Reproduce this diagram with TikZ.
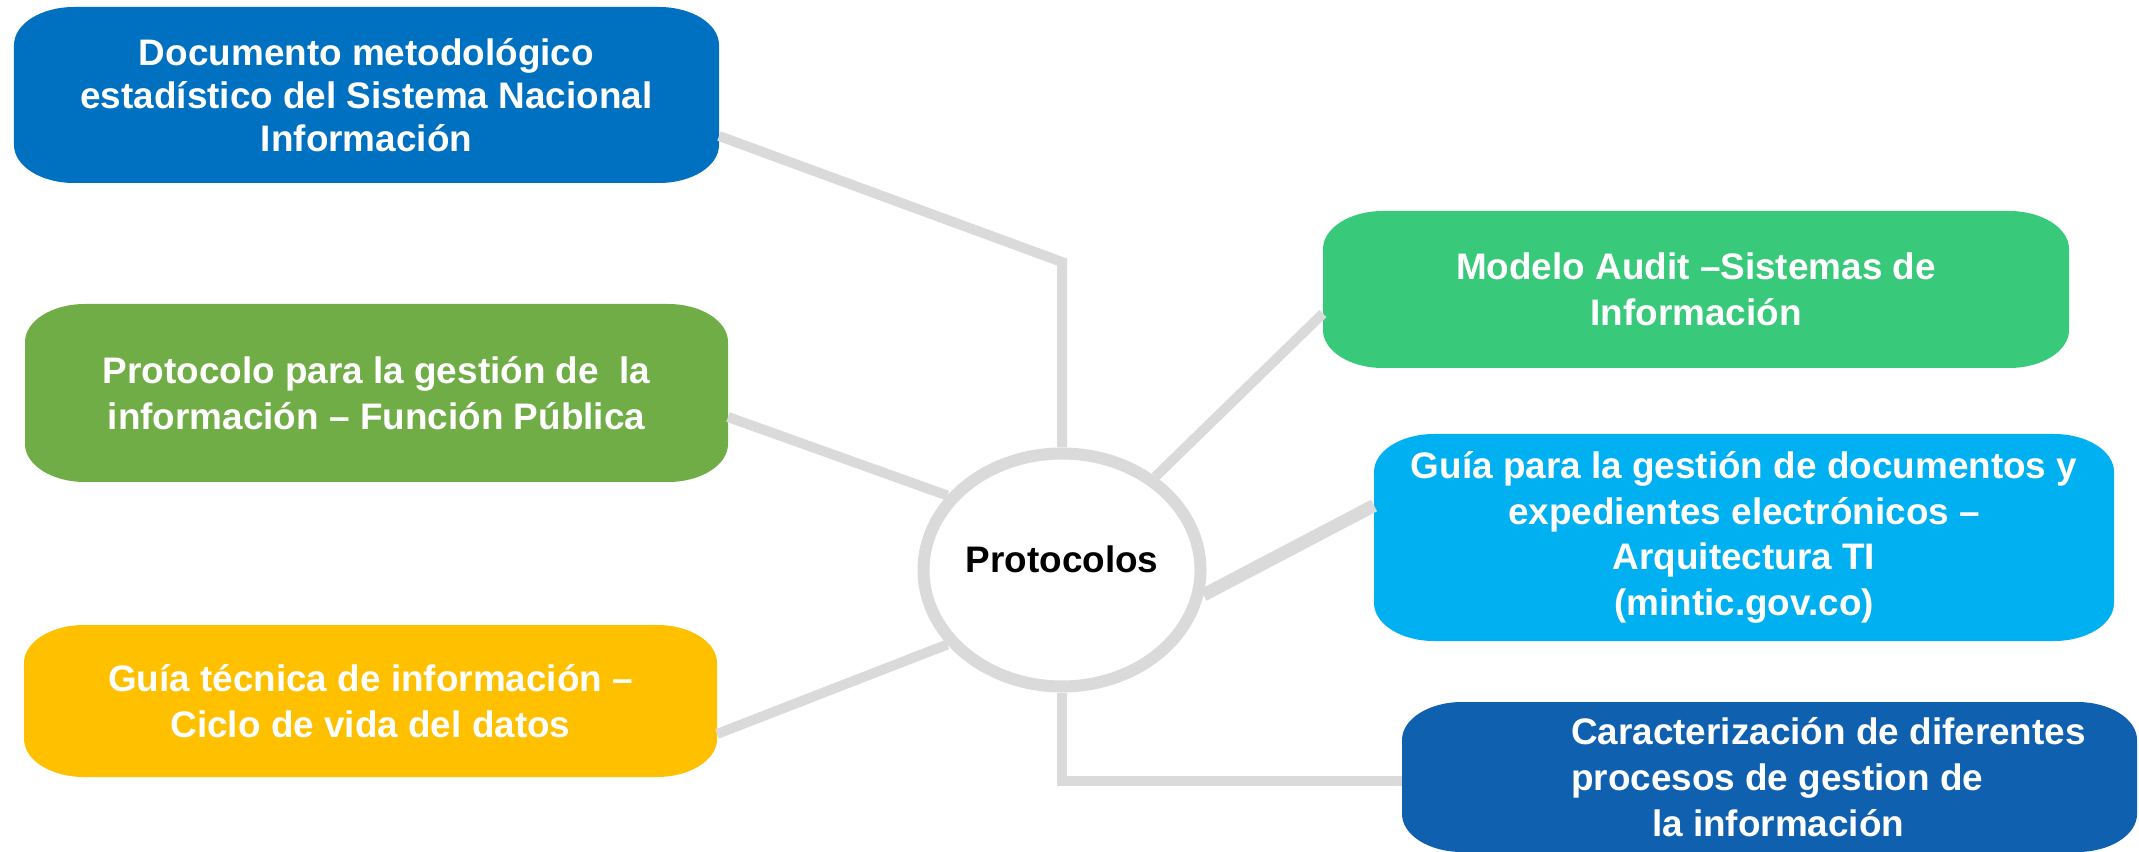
\documentclass[tikz,border=0pt]{standalone}
\usepackage{fontspec}
\setmainfont{Liberation Sans}
\usetikzlibrary{shapes.geometric,backgrounds}

\definecolor{docblue}{HTML}{0070C0}
\definecolor{leafgreen}{HTML}{70AD47}
\definecolor{amber}{HTML}{FFC000}
\definecolor{mint}{HTML}{38C97A}
\definecolor{sky}{HTML}{00B0F0}
\definecolor{navy}{HTML}{1060B0}
\definecolor{linkgray}{HTML}{DADADA}

\tikzset{
  card/.style={rectangle,outer sep=0pt,inner sep=2pt,align=center,text=white,
    font=\fontsize{10.5}{13}\selectfont\bfseries},
  link/.style={draw=linkgray,line width=1mm},
}
% rounded card with flattened corners
\newcommand\cardfill[2]{%
  \fill[#2] ([xshift=6mm]#1.north west) -- ([xshift=-6mm]#1.north east)
    arc[start angle=90,end angle=0,x radius=6mm,y radius=3.8mm]
    -- ([yshift=3.8mm]#1.south east)
    arc[start angle=0,end angle=-90,x radius=6mm,y radius=3.8mm]
    -- ([xshift=6mm]#1.south west)
    arc[start angle=-90,end angle=-180,x radius=6mm,y radius=3.8mm]
    -- ([yshift=-3.8mm]#1.north west)
    arc[start angle=180,end angle=90,x radius=6mm,y radius=3.8mm] -- cycle;}

\begin{document}
\begin{tikzpicture}
  \useasboundingbox (0,0) rectangle (21.39,-8.52);
  % ---------------- hub ----------------
  \node[ellipse,draw=linkgray,line width=1.2mm,fill=white,inner sep=0pt,minimum width=2.77cm,
    minimum height=2.33cm,text depth=0.22cm,font=\fontsize{10.5}{13}\selectfont\bfseries] (hub) at (10.62,-5.70) {Protocolos};
  % ---------------- left cards ----------------
  \node[card,minimum width=7.05cm,minimum height=1.76cm,
    font=\fontsize{10.5}{12.2}\selectfont\bfseries] (doc) at (3.665,-0.95)
    {Documento metodológico\\estadístico del Sistema Nacional\\Información};
  \node[card,minimum width=7.03cm,minimum height=1.78cm] (gestion) at (3.765,-3.93)
    {Protocolo para la gestión de\ \ la\\información – Función Pública};
  \node[card,minimum width=6.93cm,minimum height=1.52cm] (ciclo) at (3.705,-7.01)
    {Guía técnica de información –\\Ciclo de vida del datos};
  % ---------------- right cards ----------------
  \node[card,minimum width=7.46cm,minimum height=1.57cm] (audit) at (16.96,-2.895)
    {Modelo Audit –Sistemas de\\Información};
  \node[card,minimum width=7.40cm,minimum height=2.07cm] (docelec) at (17.44,-5.375)
    {Guía para la gestión de documentos y\\expedientes electrónicos –\\Arquitectura TI\\(mintic.gov.co)};
  \node[card,minimum width=7.35cm,minimum height=1.50cm,align=left] (carac) at (17.695,-7.77)
    {\hspace*{1.18cm}Caracterización de diferentes\\\hspace*{1.18cm}procesos de gestion de\\\hspace*{1.99cm}la información};
  \begin{pgfonlayer}{background}
    \foreach \n/\c in {doc/docblue,gestion/leafgreen,ciclo/amber,audit/mint,docelec/sky,carac/navy}
      {\cardfill{\n}{\c}}
  \end{pgfonlayer}
  % ---------------- links ----------------
  \coordinate (bend) at (10.62,-2.62);
  \draw[link] ([yshift=-4.1mm]doc.east) -- (bend) -- (hub.north);
  \draw[link] ([yshift=-2.4mm]gestion.east) -- (hub.147);
  \draw[link] ([yshift=-3.3mm]ciclo.east) -- (hub.213.5);
  \draw[link] (hub.45) -- ([yshift=-2.4mm]audit.west);
  \draw[link,line width=1.3mm] (hub.350.5) -- ([yshift=3.2mm]docelec.west);
  \draw[link] (hub.south) |- ([yshift=-0.4mm]carac.west);
\end{tikzpicture}
\end{document}
